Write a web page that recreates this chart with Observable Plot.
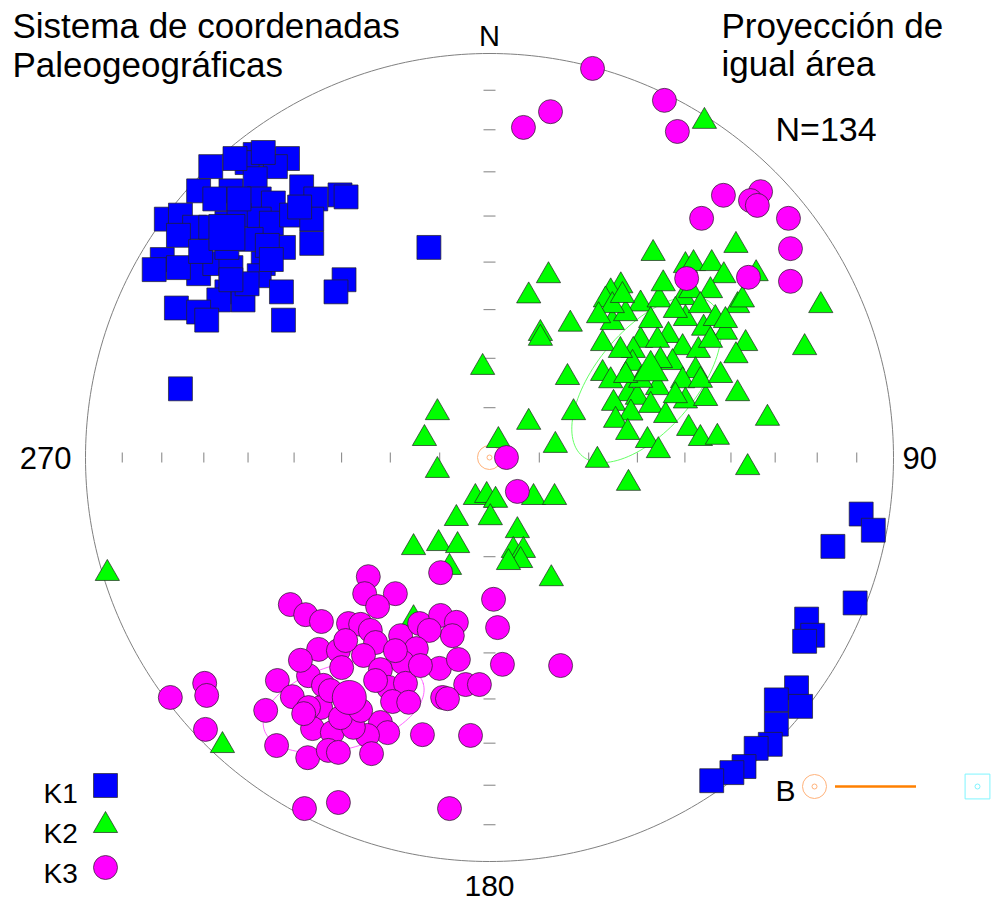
<!DOCTYPE html>
<html>
<head>
<meta charset="utf-8">
<script src="https://cdn.jsdelivr.net/npm/d3@7"></script>
<script src="https://cdn.jsdelivr.net/npm/@observablehq/plot@0.6"></script>
<style>
  html, body { margin: 0; padding: 0; background: #fff; }
  #chart svg { display: block; font-family: "Liberation Sans", Arial, sans-serif; }
</style>
</head>
<body>
<div id="chart"></div>
<script>
// AMS principal axes, equal-area (Schmidt) projection, lower hemisphere,
// palaeogeographic coordinates. Each pair is [east, north] of the projected
// axis, with the primitive circle at radius 100.
const k1 = [
  [-58,75],[-60,73],[-50,74],[-69,72],[-53,72],[-72,66],[-64,66],[-46.5,67],[-37,65],[-35.5,64.5],
  [-43,64],[-58,69],[-57,64],[-53.5,63],[-80,59],[-76.5,60],[-73,57],[-69,57],[-65,58],[-62,60],
  [-57,59],[-54,58],[-49,60],[-44,59],[-44,53],[-51,52],[-77,55],[-81,49],[-83,46.5],[-72,45.5],
  [-68,48],[-64,47],[-56,48],[-57,45],[-51.5,41],[-65,41],[-61,39],[-67,39],[-77.5,37],[-72,36],
  [-70,34],[-51,34],[-36,44],[-38,41],[-77,47],[-60,43],[-15,52],[-76.5,17],
  [-63,74],[-56,75.5],[-68,64],[-62,64],[-65,52],[-59,54],[-71.5,51],[-55,52.5],[-47,62],[-64,44],[-54,49],
  [92,-14],[95,-18],[85,-22],[90.5,-36],[78.5,-40],[80,-44],[78,-45.5],[76,-57],[77,-61.6],[71,-60],
  [71,-66],[69.5,-71],[66,-72],[63,-76.5],[60,-78],[55,-80]
];

const k2 = [
  [40.5,50.5],[61,52.5],[14.6,45],[9.7,40],[48.5,47.5],[50.5,48],[55,48],[58,45],[66,45.5],[32.5,42.5],
  [30,41],[28.7,39],[37.4,38],[42,39],[43,43],[48,39.6],[54.7,41.3],[61.4,37.6],[62.6,39],[82,37.6],
  [20,33],[12.6,30.7],[12.6,29.5],[30.4,33.4],[28,28.2],[33.7,35.6],[37.4,29],[44.3,30.2],[48.5,34.4],[53,32],
  [58.4,31],[63.4,28.2],[78,27.2],[61,25.2],[35.6,26.5],[41.6,29],[47.8,27.2],[51.7,26.5],[45.3,23.5],[51,21.5],
  [35.4,23.3],[19.3,19.8],[28,20.8],[30,19],[41.6,17.3],[47.8,19],[48.5,14],[53.5,14.6],[61.4,15.8],[68.8,9.7],
  [34.4,15.8],[36.6,14.9],[30.7,13.4],[35,11],[31.2,9.2],[34.2,6.2],[20.8,11.1],[9.7,8.7],[16.3,3],[39.1,4.2],
  [41.8,1.7],[49.3,7.2],[52.2,4.7],[56.4,5],[26.7,-0.7],[63.9,-2.5],[34.4,-6.4],[53.2,83.2],[-1.7,22.3],[-12.9,11.1],
  [-16.1,4.7],[2.2,4.2],[-12.9,-3.2],[-3.5,-9.9],[-0.7,-9.4],[1.5,-10.6],[10.9,-9.9],[16.1,-9.9],[0.2,-14.9],[-8.2,-15.1],
  [6.9,-18.1],[-18.8,-22.3],[-12.6,-21.3],[-7.9,-21.8],[5.9,-23],[8.4,-23],[7.7,-25.5],[4.7,-26],[-9.9,-27.2],[15.3,-30],
  [-18.8,-39.9],[-94.6,-28.7],[-66.1,-71.3],
  [30.4,37.6],[32.9,40.1],[27,35.1],[39.9,33.9],[46,36.4],[49.8,41.3],[52.2,37.6],[55.9,34.4],[42.3,24],[37.4,19.1],
  [33.7,20.3],[52.2,19.1],[57.2,20.3],[39.9,12.9],[43.6,10.4],[46,15.3],[32.4,26.5],[54.7,29],[58.4,33.9]
];

const k3 = [
  [25.5,96.3],[43.3,88.4],[46.5,80.7],[15.1,85.6],[8.4,81.7],[52.5,59.2],[57.9,64.9],[67.1,65.8],[64.6,63.6],[66.3,62.4],
  [74,59.2],[74.5,51.7],[74.5,43.6],[64.1,44.6],[48.8,44.3],[4.2,0],[6.9,-8.4],[1,-35.1],[2,-42.1],[3.2,-51.2],
  [17.6,-51.5],[-12.1,-28.5],
  [-30,-29.5],[-30.9,-33.7],[-23.3,-33.7],[-27.7,-36.9],[-49.3,-36.4],[-45.5,-38.9],[-41.6,-40.6],[-34.9,-41.1],
  [-31.9,-41.3],[-29.5,-42.8],[-28.2,-45.8],[-22,-44.1],[-17.3,-41.1],[-12.1,-39.1],[-8.2,-40.8],[-9.2,-44.1],
  [-14.9,-42.8],[-42.3,-47.5],[-37.4,-47.8],[-31.2,-49],[-18.1,-47.3],[-12.4,-52.2],[-7.7,-50],[-21.5,-50.7],
  [-27,-52.5],[-36.6,-52],[-44.8,-54],[-52.5,-55.2],[-48.8,-59.2],[-41.1,-56.4],[-25,-56.9],[-20.8,-55.9],
  [-24,-60.4],[-20,-60.6],[-41.8,-61.9],[-44.8,-61.9],[-55.4,-62.6],[-43.8,-67.1],[-38.9,-68.1],[-27,-65.6],
  [-25.2,-68.1],[-30.2,-68.8],[-33.7,-66.8],[-36.9,-64.4],[-46,-63.4],[-52.7,-71.3],[-45,-74.3],[-39.9,-72.5],
  [-37.4,-73],[-29.2,-73.3],[-16.6,-68.6],[-4.7,-68.8],[-5.9,-56.2],[-2.5,-56.2],[-11.6,-59.4],[-10.4,-59.7],
  [-79,-59.4],[-70.5,-55.9],[-70,-58.9],[-70.3,-67.3],[-45.8,-86.9],[-37.4,-85.4],[-9.9,-86.9],
  [-39.4,-57.7],[-31.9,-62.6],[-28.2,-55.2],[-23.3,-47.8],[-17.1,-51.5],[-35.6,-45.3],[-46.8,-50.2]
];

// Mean directions of each axis
const k1Mean = [-65, 55.7];
const k2Mean = [39.9, 21.5];
const k3Mean = [-34.7, -59.4];

// Confidence ellipses about the K2 and K3 means (semi-axes and rotation in degrees)
const ellipses = [
  {axis: "K2", cx: 38.9, cy: 19.3, a: 24.75, b: 12.4, rot: 50},
  {axis: "K3", cx: -36.1, cy: -61.6, a: 20.5, b: 10.4, rot: 16}
];

// Pole to bedding (vertical after restoration)
const bedding = [[0, 0]];

const plungeTicks = [10, 20, 30, 40, 50, 60, 70, 80];
const legendKeys = ["K1", "K2", "K3"];
const sampleCount = 134;

// ---- styling ----
const W = 993, H = 902;
const CX = 489, CY = 457, RPX = 404;          // primitive circle centre and radius, in pixels
const unit = RPX / 100;
const FONT = "Liberation Sans, Arial, sans-serif";
const colors = {K1: "#0000ff", K2: "#00ff00", K3: "#ff00ff"};
const symbols = {K1: "square", K2: "triangle", K3: "circle"};
const sizes = {K1: 13.5, K2: 9, K3: 12};
const meanSizes = {K1: 20.3, K2: 13, K3: 17};

const rows = [
  ...k1.map(([e, n]) => ({axis: "K1", e, n})),
  ...k2.map(([e, n]) => ({axis: "K2", e, n})),
  ...k3.map(([e, n]) => ({axis: "K3", e, n}))
];
const means = [["K1", k1Mean], ["K2", k2Mean], ["K3", k3Mean]].map(([axis, [e, n]]) => ({axis, e, n}));

// equal-area radius for a plunge in degrees
const eqArea = p => 100 * Math.SQRT2 * Math.sin((90 - p) / 2 * Math.PI / 180);

const primitive = d3.range(0, 361, 1).map(a => ({
  e: 100 * Math.sin(a * Math.PI / 180),
  n: 100 * Math.cos(a * Math.PI / 180)
}));

const ellipsePoints = ellipses.flatMap(el => {
  const t = el.rot * Math.PI / 180;
  return d3.range(0, 361, 3).map(d => {
    const a = d * Math.PI / 180;
    const u = el.a * Math.cos(a), v = el.b * Math.sin(a);
    return {axis: el.axis, e: el.cx + u * Math.cos(t) - v * Math.sin(t), n: el.cy + u * Math.sin(t) + v * Math.cos(t)};
  });
});

const ticksEW = plungeTicks.flatMap(p => [{e: eqArea(p), n: 0}, {e: -eqArea(p), n: 0}]);
const ticksNS = plungeTicks.flatMap(p => [{e: 0, n: eqArea(p)}, {e: 0, n: -eqArea(p)}]);

const vTick = {draw(ctx) { ctx.moveTo(0, -5); ctx.lineTo(0, 5); }};
const hTick = {draw(ctx) { ctx.moveTo(-6, 0); ctx.lineTo(6, 0); }};
const legendLine = {draw(ctx) { ctx.moveTo(-40.5, 0); ctx.lineTo(40.5, 0); }};

const frameText = (text, dx, dy, size, extra = {}) =>
  Plot.text([text], {text: d => d, frameAnchor: "top-left", dx, dy, lineAnchor: "bottom",
    textAnchor: "start", fontSize: size, fontFamily: FONT, fill: "black", ...extra});

const legendMarks = legendKeys.flatMap((k, i) => [
  frameText(k, 43, 802 + 40 * i, 28),
  Plot.dot([k], {frameAnchor: "top-left", dx: 105, dy: [785, 825, 867][i], symbol: symbols[k],
    r: sizes[k], fill: colors[k], stroke: "#222", strokeWidth: 0.7})
]);

const chart = Plot.plot({
  width: W,
  height: H,
  margin: 0,
  x: {domain: [-CX / unit, (W - CX) / unit], axis: null},
  y: {domain: [(CY - H) / unit, CY / unit], axis: null},
  style: {background: "#fff", fontFamily: FONT},
  marks: [
    Plot.line(primitive, {x: "e", y: "n", stroke: "#808080", strokeWidth: 1}),
    Plot.dot(ticksEW, {x: "e", y: "n", symbol: vTick, fill: "none", stroke: "#808080", strokeWidth: 1}),
    Plot.dot(ticksNS, {x: "e", y: "n", symbol: hTick, fill: "none", stroke: "#808080", strokeWidth: 1}),
    Plot.dot(bedding, {x: d => d[0], y: d => d[1], r: 12, fill: "none", stroke: "#ffb27a", strokeWidth: 1}),
    Plot.dot(bedding, {x: d => d[0], y: d => d[1], r: 2.5, fill: "none", stroke: "#ffb27a", strokeWidth: 1}),
    Plot.line(ellipsePoints, {x: "e", y: "n", z: "axis", stroke: d => d.axis === "K2" ? "#66ff66" : "#ff66ff", strokeWidth: 1}),
    ...["K1", "K2", "K3"].map(k =>
      Plot.dot(rows.filter(d => d.axis === k), {x: "e", y: "n", symbol: symbols[k], r: sizes[k],
        fill: colors[k], stroke: "#222", strokeWidth: 0.7})
    ),
    ...means.map(m =>
      Plot.dot([m], {x: "e", y: "n", symbol: symbols[m.axis], r: meanSizes[m.axis],
        fill: colors[m.axis], stroke: "#222", strokeWidth: 0.7})
    ),
    // cardinal directions
    Plot.text(["N"], {x: 0, y: 100, text: d => d, dy: -8, lineAnchor: "bottom", fontSize: 29, fontFamily: FONT, fill: "black"}),
    Plot.text(["180"], {x: 0, y: -100, text: d => d, dy: 34, lineAnchor: "bottom", fontSize: 30, fontFamily: FONT, fill: "black"}),
    Plot.text(["270"], {x: -100, y: 0, text: d => d, dx: -14, dy: 11, textAnchor: "end", lineAnchor: "bottom", fontSize: 31, fontFamily: FONT, fill: "black"}),
    Plot.text(["90"], {x: 100, y: 0, text: d => d, dx: 9, dy: 11, textAnchor: "start", lineAnchor: "bottom", fontSize: 31, fontFamily: FONT, fill: "black"}),
    // headings
    frameText("Sistema de coordenadas\nPaleogeográficas", 12, 76, 35, {lineHeight: 1.114}),
    frameText("Proyección de\nigual área", 721, 75, 35, {lineHeight: 1.086}),
    frameText(`N=${sampleCount}`, 775, 140, 34),
    // axis legend
    ...legendMarks,
    // bedding legend
    frameText("B", 775, 800, 30),
    Plot.dot(["B"], {frameAnchor: "top-left", dx: 814, dy: 786, r: 12, fill: "none", stroke: "#ffb27a", strokeWidth: 1}),
    Plot.dot(["B"], {frameAnchor: "top-left", dx: 814, dy: 786, r: 2.5, fill: "none", stroke: "#ffb27a", strokeWidth: 1}),
    Plot.dot(["B"], {frameAnchor: "top-left", dx: 875, dy: 786, symbol: legendLine, fill: "none", stroke: "#ff8000", strokeWidth: 2.5}),
    Plot.dot(["B"], {frameAnchor: "top-left", dx: 977, dy: 786, symbol: "square", r: 14, fill: "none", stroke: "#7ff5ff", strokeWidth: 1}),
    Plot.dot(["B"], {frameAnchor: "top-left", dx: 977, dy: 786, r: 2.5, fill: "none", stroke: "#7ff5ff", strokeWidth: 1})
  ]
});

document.getElementById("chart").appendChild(chart);
</script>
</body>
</html>
